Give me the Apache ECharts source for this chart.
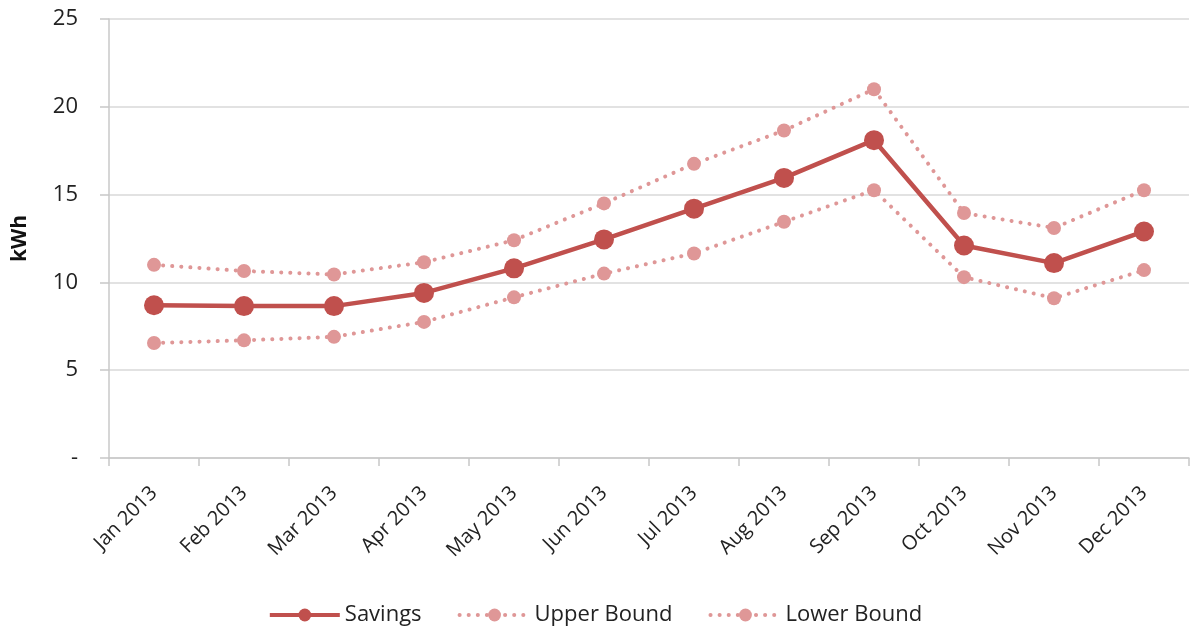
<!DOCTYPE html>
<html>
<head>
<meta charset="UTF-8">
<script src="https://cdn.jsdelivr.net/npm/echarts@6/dist/echarts.min.js"></script>
<style>
  html, body { margin: 0; padding: 0; background: #fff; }
  #chart { width: 1190px; height: 633px; }
</style>
</head>
<body>
<div id="chart"></div>
<script>
const months = ['Jan 2013', 'Feb 2013', 'Mar 2013', 'Apr 2013', 'May 2013', 'Jun 2013',
                'Jul 2013', 'Aug 2013', 'Sep 2013', 'Oct 2013', 'Nov 2013', 'Dec 2013'];
const savings = [8.7, 8.65, 8.65, 9.4, 10.8, 12.45, 14.2, 15.95, 18.1, 12.1, 11.1, 12.9];
const upperBound = [11.0, 10.65, 10.45, 11.15, 12.4, 14.5, 16.75, 18.65, 21.0, 13.95, 13.1, 15.25];
const lowerBound = [6.55, 6.7, 6.9, 7.75, 9.15, 10.5, 11.65, 13.45, 15.25, 10.3, 9.1, 10.7];

const font = 'Open Sans';
const boundColor = '#df9797';
const dotted = { color: boundColor, width: 4, type: [0.1, 9], cap: 'round' };

const chart = echarts.init(document.getElementById('chart'));

chart.setOption({
    animation: false,
    textStyle: { fontFamily: font },
    grid: { left: 109, right: 1, top: 19, bottom: 175 },
    legend: {
        bottom: 2,
        left: 'center',
        itemWidth: 70,
        itemHeight: 16,
        itemGap: 36,
        lineStyle: { width: 4 },
        textStyle: { fontSize: 22, color: '#222', fontFamily: font },
        data: ['Savings', 'Upper Bound', 'Lower Bound']
    },
    xAxis: {
        type: 'category',
        data: months,
        boundaryGap: true,
        axisLine: { lineStyle: { color: '#c8c8c8', width: 1.5 } },
        axisTick: { show: true, length: 8, lineStyle: { color: '#c8c8c8', width: 1.5 } },
        axisLabel: { rotate: 45, fontSize: 20, color: '#222', margin: 32 }
    },
    yAxis: {
        type: 'value',
        min: 0,
        max: 25,
        interval: 5,
        name: 'kWh',
        nameLocation: 'middle',
        nameGap: 78,
        nameTextStyle: { fontSize: 21, fontWeight: 'bold', color: '#111' },
        axisLine: { show: true, lineStyle: { color: '#c8c8c8', width: 1.5 } },
        axisTick: { show: true, length: 9, lineStyle: { color: '#c8c8c8', width: 1.5 } },
        splitLine: { lineStyle: { color: '#d9d9d9', width: 1.5 } },
        axisLabel: {
            fontSize: 22, color: '#222', margin: 31,
            formatter: v => v === 0 ? '-' : String(v)
        }
    },
    series: [
        {
            name: 'Savings',
            type: 'line',
            data: savings,
            symbol: 'circle',
            symbolSize: 20,
            itemStyle: { color: '#c0504d' },
            lineStyle: { color: '#c0504d', width: 4.5 },
            z: 3
        },
        {
            name: 'Upper Bound',
            type: 'line',
            data: upperBound,
            symbol: 'circle',
            symbolSize: 14,
            itemStyle: { color: boundColor },
            lineStyle: dotted
        },
        {
            name: 'Lower Bound',
            type: 'line',
            data: lowerBound,
            symbol: 'circle',
            symbolSize: 14,
            itemStyle: { color: boundColor },
            lineStyle: dotted
        }
    ]
});
</script>
</body>
</html>
